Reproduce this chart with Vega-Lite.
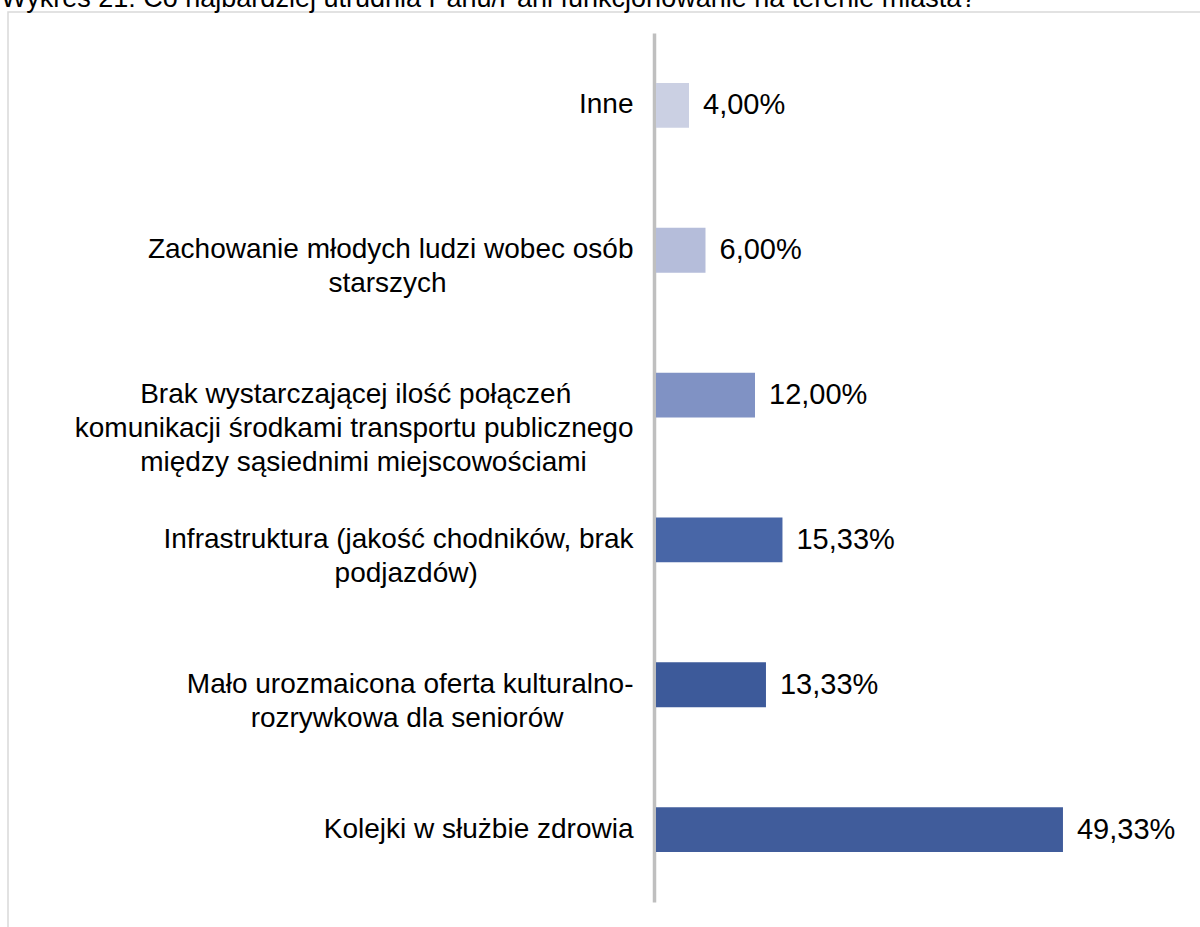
{
  "$schema": "https://vega.github.io/schema/vega-lite/v6.json",
  "autosize": {"type": "none"},
  "padding": {"left": 8, "top": 12, "right": -10, "bottom": -10},
  "width": 1202,
  "height": 925,
  "background": "white",
  "title": {
    "text": "Wykres 21: Co najbardziej utrudnia Panu/Pani funkcjonowanie na terenie miasta?",
    "anchor": "start",
    "frame": "group",
    "orient": "top",
    "baseline": "alphabetic",
    "offset": -1,
    "dy": 21,
    "dx": -7,
    "font": "Liberation Sans",
    "fontSize": 27,
    "fontWeight": "normal",
    "color": "#000000"
  },
  "config": {
    "view": {"stroke": "#d9d9d9", "strokeWidth": 1.5},
    "locale": {"number": {"decimal": ",", "thousands": " ", "grouping": [3], "currency": ["", " zł"]}}
  },
  "data": {
    "values": [
      {"label": "Inne", "value": 0.04},
      {"label": "Zachowanie młodych ludzi wobec osób|starszych\u2007\u2007\u2007\u2007\u2007\u2007\u2007\u2007\u2007\u2007\u2007\u2007\u200b", "value": 0.06},
      {"label": "Brak wystarczającej ilość połączeń\u2007\u2007\u2007\u2007\u200b|komunikacji środkami transportu publicznego|między sąsiednimi miejscowościami\u2007\u2007\u2007\u200b", "value": 0.12},
      {"label": "Infrastruktura (jakość chodników, brak|podjazdów)\u2007\u2007\u2007\u2007\u2007\u2007\u2007\u2007\u2007\u2007\u200b", "value": 0.1533},
      {"label": "Mało urozmaicona oferta kulturalno-|rozrywkowa dla seniorów\u2007\u2007\u2007\u2007\u00a0\u200b", "value": 0.1333},
      {"label": "Kolejki w służbie zdrowia", "value": 0.4933}
    ]
  },
  "encoding": {
    "y": {
      "field": "label",
      "type": "nominal",
      "sort": null,
      "scale": {"range": [21, 890], "paddingInner": 0.69, "paddingOuter": 0.345},
      "axis": {
        "title": null,
        "orient": "left",
        "offset": -646,
        "domain": true,
        "domainColor": "#bfbfbf",
        "domainWidth": 3.5,
        "ticks": false,
        "labelPadding": 21,
        "labelFont": "Liberation Sans",
        "labelFontSize": 28,
        "labelColor": "#000000",
        "labelLineHeight": 34,
        "labelLimit": 0,
        "labelExpr": "split(datum.value, '|')"
      }
    },
    "x": {
      "field": "value",
      "type": "quantitative",
      "scale": {"domain": [0, 0.6], "range": [648, 1143], "zero": true, "nice": false},
      "axis": null
    }
  },
  "layer": [
    {
      "mark": {"type": "bar"},
      "encoding": {
        "color": {
          "field": "label",
          "type": "nominal",
          "sort": null,
          "legend": null,
          "scale": {"range": ["#cbd0e3", "#b5bdda", "#8092c4", "#4866a7", "#3d5a9a", "#405c9b"]}
        }
      }
    },
    {
      "mark": {"type": "text", "align": "left", "baseline": "middle", "dx": 14, "font": "Liberation Sans", "fontSize": 29, "color": "#000000"},
      "encoding": {
        "text": {"field": "value", "type": "quantitative", "format": ".2%"}
      }
    }
  ]
}
